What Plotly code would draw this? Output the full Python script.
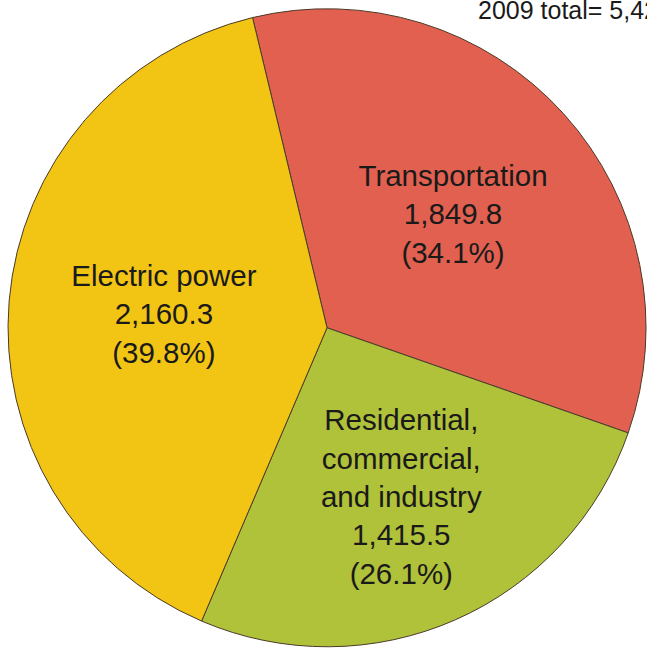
import plotly.graph_objects as go

# 2009 emissions by sector
sectors = ["Transportation", "Residential,<br>commercial,<br>and industry", "Electric power"]
emissions = [1849.8, 1415.5, 2160.3]
colors = ["#E2604F", "#B0C13A", "#F2C514"]

total = sum(emissions)

fig = go.Figure(
    go.Pie(
        labels=sectors,
        values=emissions,
        sort=False,
        direction="clockwise",
        rotation=-13.5,
        marker=dict(colors=colors, line=dict(color="#4a3b2a", width=1)),
        texttemplate="%{label}<br>%{value:,.1f}<br>(%{percent:.1%})",
        textposition="inside",
        insidetextorientation="horizontal",
        textfont=dict(family="Liberation Sans, Arial, sans-serif", size=29.5, color="#1a1a1a"),
        hoverinfo="skip",
        showlegend=False,
        domain=dict(x=[0.0124, 0.9985], y=[0.0015, 0.99]),
    )
)

fig.add_annotation(
    text=f"2009 total= {total:,.1f}",
    xref="paper", yref="paper",
    x=476 / 647, y=1.0,
    xanchor="left", yanchor="top",
    yshift=6,
    showarrow=False,
    font=dict(family="Liberation Sans, Arial, sans-serif", size=25, color="#1a1a1a"),
)

fig.update_layout(
    width=647,
    height=650,
    margin=dict(l=0, r=0, t=0, b=0),
    paper_bgcolor="white",
    plot_bgcolor="white",
    uniformtext=dict(minsize=29, mode="show"),
)

fig.write_html("out.html")
